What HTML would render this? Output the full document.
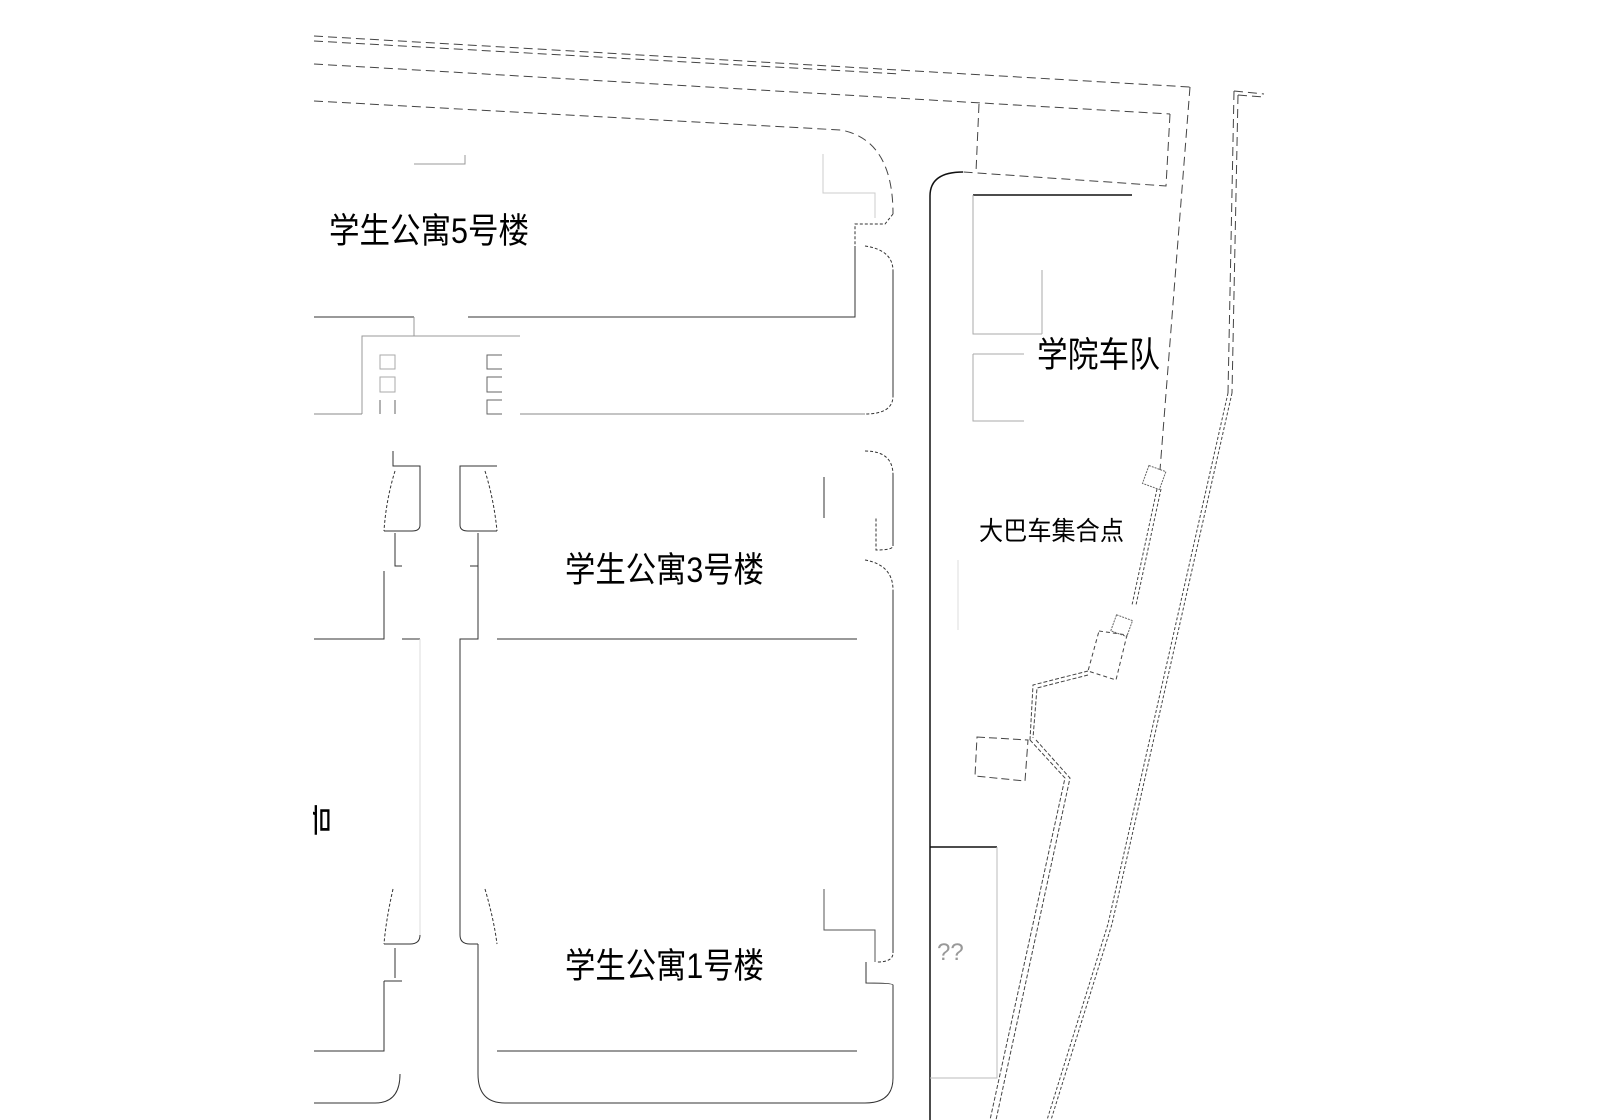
<!DOCTYPE html>
<html><head><meta charset="utf-8"><style>
html,body{margin:0;padding:0;background:#fff;}
svg{display:block}
text{font-family:"Liberation Sans","Noto Sans CJK SC",sans-serif;fill:#000}
</style></head><body>
<svg width="1600" height="1120" viewBox="0 0 1600 1120" xmlns="http://www.w3.org/2000/svg">
<defs><clipPath id="cl"><rect x="313" y="0" width="100" height="1120"/></clipPath></defs>
<g fill="none" stroke="#333" stroke-width="1">
<g stroke-dasharray="9,5" stroke="#444">
<path d="M314,36 L1190,87"/>
<path d="M314,41 L900,74"/>
<path d="M314,64 L1170,114"/>
<path d="M314,101 L841,130 Q893,140 893,214"/>
<path d="M979,104 L976,172 M1170,114 L1166,186 L963,172"/>
<path d="M1190,87 L1160,470"/>
<path d="M1157,489 L1132,605 M1161,489 L1136,605" stroke-dasharray="3,2"/>
<path d="M1234,91 L1264,94 M1238,95 L1264,97"/>
<path d="M1234,91 L1228,393 M1238,95 L1232,393"/>
<path d="M1228,393 L1108,924 L1047,1120 M1232,393 L1112,924 L1051,1120" stroke-dasharray="3,2"/>
<path d="M1099,631 L1127,635 L1116,680 L1088,671 Z" stroke-dasharray="4,3"/>
<path d="M977,737 L1028,740 L1025,781 L975,776 Z" stroke-dasharray="8,4"/>
<path d="M1088,671 L1033,685 L1030,740 M1088,675 L1037,688 L1033,738" stroke-dasharray="4,2"/>
<path d="M1030,740 L1065,778 L990,1120 M1036,740 L1070,778 L996,1120" stroke-dasharray="4,2"/>
</g>
<rect x="1145" y="468" width="18" height="19" stroke="#666" stroke-dasharray="2,1" transform="rotate(20 1154 478)"/>
<rect x="1113" y="617" width="17" height="17" stroke="#666" stroke-dasharray="2,1" transform="rotate(20 1121 626)"/>
<path d="M930,1120 L930,196 Q930,172 963,172" stroke="#111" stroke-width="1.5"/>
<path d="M414,164 L465,164 L465,155" stroke="#999"/>
<path d="M823,154 L823,193 L875,193 L875,218" stroke="#ccc"/>
<path d="M893,214 L885,224 L855,224 L855,246 M865,246 Q893,250 893,271 L893,396 Q893,414 865,414" stroke-dasharray="3,2"/>
<path d="M893,271 L893,396"/>
<path d="M314,317 L414,317 M468,317 L855,317 L855,246"/>
<path d="M414,317 L414,336 M362,414 L362,336 L520,336" stroke="#999"/>
<path d="M314,414 L362,414 M520,414 L865,414" stroke="#888"/>
<g stroke="#666">
<rect x="380" y="355" width="15" height="14" stroke="#aaa"/><rect x="380" y="377" width="15" height="15" stroke="#aaa"/><path d="M380,400 L380,414 M395,400 L395,414"/>
<path d="M502,355 L487,355 L487,369 L502,369 M502,377 L487,377 L487,392 L502,392 M502,400 L487,400 L487,414 L502,414"/>
</g>
<path d="M393,451 L393,466 L420,466 L420,525 Q420,531 412,531 L384,531"/>
<path d="M395,471 Q386,500 384,531" stroke-dasharray="3,2"/>
<path d="M497,466 L460,466 L460,525 Q460,531 468,531 L497,531"/>
<path d="M485,471 Q494,500 497,531" stroke-dasharray="3,2"/>
<path d="M395,533 L395,566 L402,566 M478,533 L478,566 L470,566"/>
<path d="M865,451 Q893,451 893,475 L893,546 Q893,550 876,550 L876,518" stroke-dasharray="3,2"/>
<path d="M893,475 L893,546"/>
<path d="M824,477 L824,518"/>
<path d="M865,560 Q893,565 893,590 L893,953 Q893,962 877,962" stroke-dasharray="3,2"/>
<path d="M893,590 L893,953"/>
<path d="M314,639 L384,639 L384,571 M402,639 L420,639"/>
<path d="M420,639 L420,935" stroke="#ddd"/>
<path d="M420,935 Q420,944 410,944 L384,944"/>
<path d="M478,560 L478,639 L460,639 L460,935 Q460,944 470,944 L478,944 M497,639 L857,639"/>
<path d="M393,889 Q386,920 384,944 M485,889 Q494,920 497,944" stroke-dasharray="3,2"/>
<path d="M395,948 L395,978 M384,981 L402,981 M384,981 L384,1051 L314,1051"/>
<path d="M478,944 L478,1074 Q478,1103 505,1103 L865,1103 Q893,1103 893,1078 L893,985 Q893,983 866,983 L866,962"/>
<path d="M400,1074 Q400,1103 375,1103 L314,1103"/>
<path d="M497,1051 L857,1051"/>
<path d="M824,889 L824,930 L875,930 L875,962" stroke="#555"/>
<path d="M973,195 L1132,195" stroke="#111" stroke-width="1.5"/>
<path d="M973,195 L973,334 L1042,334 M1042,270 L1042,334" stroke="#aaa"/>
<path d="M973,354 L1024,354 M973,354 L973,421 L1024,421" stroke="#aaa"/>
<path d="M930,847 L997,847" stroke="#111" stroke-width="1.5"/>
<path d="M997,847 L997,1078 L930,1078" stroke="#bbb"/>
<path d="M958,560 L958,630" stroke="#ddd"/>
</g>
<text x="329" y="243" font-size="35" textLength="200" lengthAdjust="spacingAndGlyphs">学生公寓5号楼</text>
<text x="565" y="582" font-size="35" textLength="199" lengthAdjust="spacingAndGlyphs">学生公寓3号楼</text>
<text x="565" y="978" font-size="35" textLength="199" lengthAdjust="spacingAndGlyphs">学生公寓1号楼</text>
<text x="1037" y="367" font-size="35" textLength="123" lengthAdjust="spacingAndGlyphs">学院车队</text>
<text x="979" y="540" font-size="26" textLength="145" lengthAdjust="spacingAndGlyphs">大巴车集合点</text>
<text x="937" y="960" font-size="24" style="fill:#999">??</text>
<g clip-path="url(#cl)"><text x="0" y="0" font-size="34" transform="translate(302,803) rotate(90)">号</text></g>
</svg>
</body></html>
